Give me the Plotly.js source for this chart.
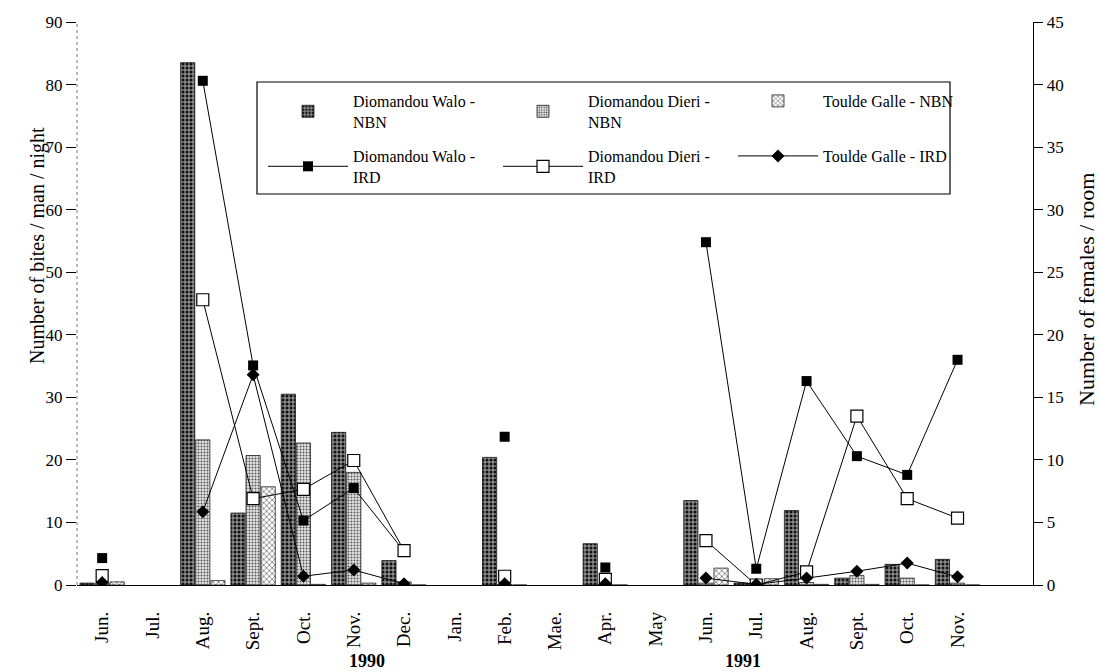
<!DOCTYPE html>
<html>
<head>
<meta charset="utf-8">
<script src="https://cdn.plot.ly/plotly-3.0.1.min.js"></script>
<style>html,body{margin:0;padding:0;background:#fff;}#chart{width:1099px;height:672px;}</style>
</head>
<body>
<div id="chart"></div>
<script>
// Month categories (June 1990 - December 1991)
var monthLabels = ['Jun.','Jul.','Aug.','Sept.','Oct.','Nov.','Dec.','Jan.','Feb.','Mae.','Apr.','May','Jun.','Jul.','Aug.','Sept.','Oct.','Nov.',''];
var monthIndex = [0,1,2,3,4,5,6,7,8,9,10,11,12,13,14,15,16,17,18];

// Number of bites / man / night (NBN) - left axis
var waloNBN   = [0.3, null, 83.5, 11.5, 30.5, 24.4, 3.9, null, 20.4, null, 6.6, null, 13.5, 0.3, 11.9, 1.1, 3.3, 4.1, null];
var dieriNBN  = [0.3, null, 23.2, 20.7, 22.7, 18.0, 0.5, null, 0.1, null, 0.1, null, 0.3, 0.2, 0.4, 1.5, 1.1, 0.3, null];
var touldeNBN = [0.5, null, 0.7, 15.7, 0.1, 0.3, 0.0, null, 0.0, null, 0.0, null, 2.7, 1.0, 0.1, 0.1, 0.0, 0.0, null];

// Number of females / room (IRD) - right axis
var waloIRD   = [2.15, null, 40.3, 17.55, 5.15, 7.75, 2.7, null, 11.85, null, 1.4, null, 27.4, 1.3, 16.3, 10.3, 8.8, 18.0, null];
var dieriIRD  = [0.75, null, 22.8, 6.9, 7.65, 9.95, 2.75, null, 0.7, null, 0.45, null, 3.55, 0.0, 1.05, 13.5, 6.9, 5.35, null];
var touldeIRD = [0.2, null, 5.85, 16.8, 0.7, 1.2, 0.1, null, 0.1, null, 0.1, null, 0.55, 0.05, 0.55, 1.1, 1.75, 0.65, null];

var yearLabels = ['1990', '1991'];
var yearPos = [5.27, 12.74];

var FONT = 'Liberation Serif, Times New Roman, serif';

var traces = [
  {type:'bar', x:monthIndex, y:waloNBN, name:'Diomandou Walo -<br>NBN', legend:'legend',
   marker:{color:'#6a6a6a', line:{color:'#111', width:0.8},
     pattern:{shape:'.', fgcolor:'#111', bgcolor:'#8a8a8a', size:4, solidity:0.45}}},
  {type:'bar', x:monthIndex, y:dieriNBN, name:'Diomandou Dieri -<br>NBN', legend:'legend',
   marker:{color:'#bbb', line:{color:'#222', width:0.8},
     pattern:{shape:'.', fgcolor:'#555', bgcolor:'#e4e4e4', size:3, solidity:0.35}}},
  {type:'bar', x:monthIndex, y:touldeNBN, name:'Toulde Galle - NBN', legend:'legend',
   marker:{color:'#ddd', line:{color:'#222', width:0.8},
     pattern:{shape:'x', fgcolor:'#555', bgcolor:'#fff', size:4, solidity:0.3}}},
  {type:'scatter', mode:'lines+markers', x:monthIndex, y:waloIRD, yaxis:'y2', name:'Diomandou Walo -<br>IRD', legend:'legend2',
   line:{color:'#000', width:1}, marker:{symbol:'square', size:10, color:'#000'}, connectgaps:false},
  {type:'scatter', mode:'lines+markers', x:monthIndex, y:dieriIRD, yaxis:'y2', name:'Diomandou Dieri -<br>IRD', legend:'legend2',
   line:{color:'#000', width:1}, marker:{symbol:'square', size:12, color:'#fff', line:{color:'#000', width:1.2}}, connectgaps:false},
  {type:'scatter', mode:'lines+markers', x:monthIndex, y:touldeIRD, yaxis:'y2', name:'Toulde Galle - IRD', legend:'legend2',
   line:{color:'#000', width:1}, marker:{symbol:'diamond', size:10, color:'#000'}, connectgaps:false}
];

var L = 77, R = 66, T = 22, B = 87;
var W = 1099, H = 672;
var pw = W - L - R, ph = H - T - B;
function px2x(p){ return (p - L) / pw; }
function py2y(p){ return 1 - (p - T) / ph; }

var boundaries = monthIndex.slice(0, 18).map(function(v){ return v + 0.5; });
var centers = monthIndex.slice(0, 18);

var annotations = [
  {xref:'paper', yref:'paper', x:px2x(37), y:py2y(246), text:'Number of bites / man / night', textangle:-90,
   showarrow:false, xanchor:'center', yanchor:'middle', font:{family:FONT, size:20, color:'#000'}},
  {xref:'paper', yref:'paper', x:px2x(1086), y:py2y(290), text:'Number of females / room', textangle:-90,
   showarrow:false, xanchor:'center', yanchor:'middle', font:{family:FONT, size:22, color:'#000'}}
];
for (var i = 0; i < yearLabels.length; i++) {
  annotations.push({xref:'x', yref:'paper', x:yearPos[i], y:py2y(661), text:'<b>' + yearLabels[i] + '</b>',
    showarrow:false, xanchor:'center', yanchor:'middle', font:{family:FONT, size:18, color:'#000'}});
}

var layout = {
  width: W, height: H,
  margin: {l:L, r:R, t:T, b:B, pad:0},
  paper_bgcolor:'#fff', plot_bgcolor:'#fff',
  font: {family:FONT, color:'#000', size:17},
  barmode:'group', bargap:0.1, bargroupgap:0.06,
  showlegend:true,
  xaxis: {range:[-0.5, 18.5], tickmode:'array', tickvals:centers, ticktext:monthLabels.slice(0,18),
    tickangle:-90, ticks:'', showgrid:false, zeroline:false, showline:true, linecolor:'#000', linewidth:1.2,
    tickfont:{family:FONT, size:19}, ticklabelstandoff:18, fixedrange:true},
  xaxis2: {range:[-0.5, 18.5], overlaying:'x', anchor:'y', tickmode:'array', tickvals:boundaries,
    ticks:'outside', ticklen:8, tickwidth:1.2, tickcolor:'#000', showticklabels:false, showgrid:false, zeroline:false, showline:false},
  xaxis3: {range:[-0.5, 18.5], overlaying:'x', anchor:'y', tickmode:'array', tickvals:boundaries,
    ticks:'inside', ticklen:8, tickwidth:1.2, tickcolor:'#000', showticklabels:false, showgrid:false, zeroline:false, showline:false},
  yaxis: {range:[0, 90], dtick:10, ticks:'outside', ticklen:10, tickwidth:1, tickcolor:'#000',
    showgrid:false, zeroline:false, showline:false, tickfont:{family:FONT, size:17}},
  yaxis2: {range:[0, 45], dtick:5, overlaying:'y', side:'right', ticks:'outside', ticklen:9, tickwidth:1, tickcolor:'#000',
    showgrid:false, zeroline:false, showline:true, linecolor:'#000', linewidth:1.3, tickfont:{family:FONT, size:17}},
  yaxis3: {range:[0, 45], dtick:5, overlaying:'y', side:'right', anchor:'x', ticks:'inside', ticklen:9, tickwidth:1, tickcolor:'#000',
    showticklabels:false, showgrid:false, zeroline:false, showline:false},
  legend: {x:px2x(263), y:py2y(84), xanchor:'left', yanchor:'top', orientation:'h', itemwidth:80,
    entrywidth:140, entrywidthmode:'pixels', bgcolor:'rgba(0,0,0,0)', borderwidth:0,
    font:{family:FONT, size:16}, traceorder:'normal', itemclick:false},
  legend2: {x:px2x(263), y:py2y(139), xanchor:'left', yanchor:'top', orientation:'h', itemwidth:80,
    entrywidth:140, entrywidthmode:'pixels', bgcolor:'rgba(0,0,0,0)', borderwidth:0,
    font:{family:FONT, size:16}, traceorder:'normal', itemclick:false},
  shapes: [
    {type:'rect', xref:'paper', yref:'paper', x0:px2x(257), x1:px2x(950), y0:py2y(194), y1:py2y(82),
     line:{color:'#000', width:1.2}, fillcolor:'rgba(0,0,0,0)'},
    {type:'line', xref:'paper', yref:'paper', x0:0, x1:0, y0:0, y1:1, line:{color:'#777', width:1, dash:'dot'}}
  ],
  annotations: annotations
};

Plotly.newPlot('chart', traces, layout, {displayModeBar:false, staticPlot:true});
</script>
</body>
</html>
